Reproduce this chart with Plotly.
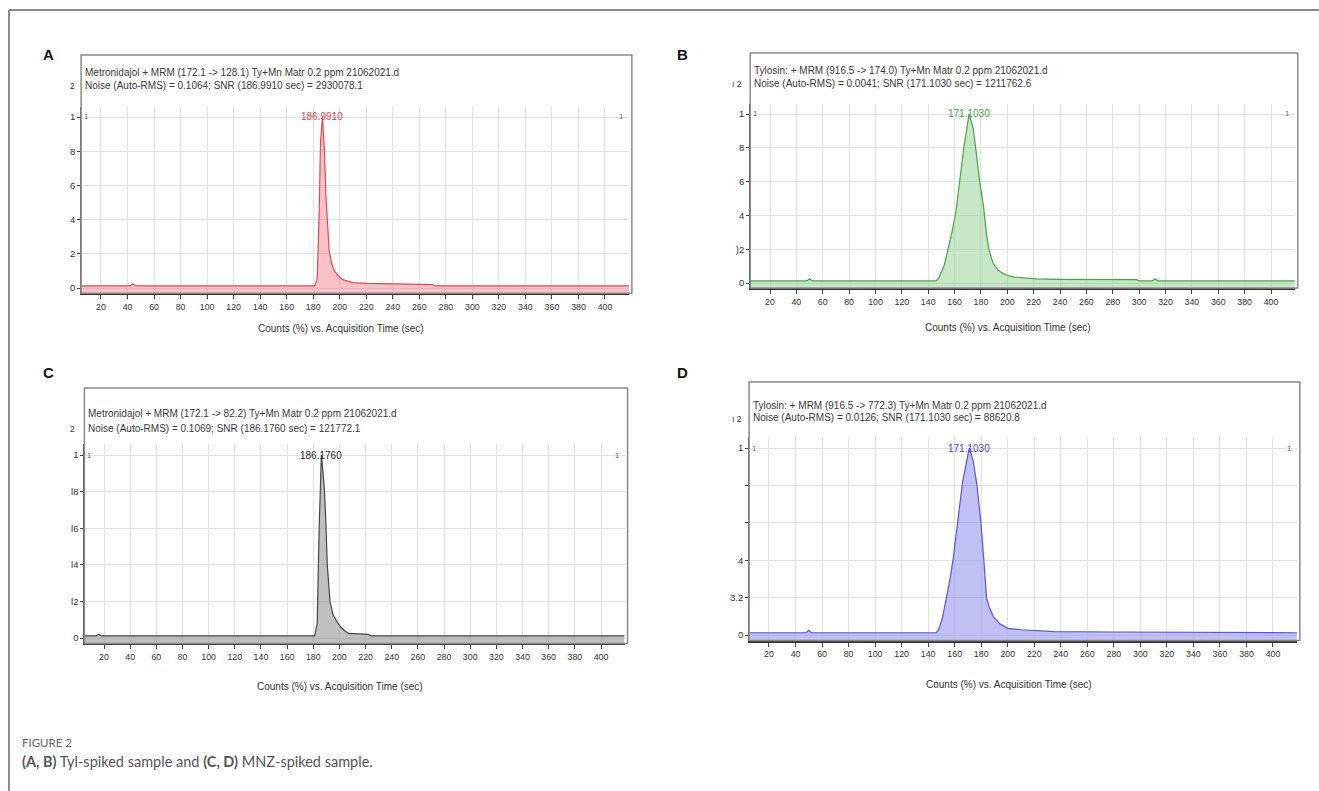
import plotly.graph_objects as go

W, H = 1319, 791

# ---------------- data ----------------
PANEL_LETTERS = ["A", "B", "C", "D"]
HEADER_LINE1 = [
    "Metronidajol + MRM (172.1 -> 128.1) Ty+Mn Matr 0.2 ppm 21062021.d",
    "Tylosin: + MRM (916.5 -> 174.0) Ty+Mn Matr 0.2 ppm 21062021.d",
    "Metronidajol + MRM (172.1 -> 82.2) Ty+Mn Matr 0.2 ppm 21062021.d",
    "Tylosin: + MRM (916.5 -> 772.3) Ty+Mn Matr 0.2 ppm 21062021.d",
]
HEADER_LINE2 = [
    "Noise (Auto-RMS) = 0.1064; SNR (186.9910 sec) = 2930078.1",
    "Noise (Auto-RMS) = 0.0041; SNR (171.1030 sec) = 1211762.6",
    "Noise (Auto-RMS) = 0.1069; SNR (186.1760 sec) = 121772.1",
    "Noise (Auto-RMS) = 0.0126; SNR (171.1030 sec) = 88620.8",
]
PEAK_LABELS = ["186.9910", "171.1030", "186.1760", "171.1030"]
PEAK_TIMES = [186.99, 171.10, 186.18, 171.10]
X_TITLE = "Counts (%) vs. Acquisition Time (sec)"
X_TICKS = list(range(20, 401, 20))
Y_TICKS = [0, 0.2, 0.4, 0.6, 0.8, 1.0]
Y_TICKTEXT = [
    ["0", "2", "4", "6", "8", "1"],
    ["0", ")2", "4", "6", "8", "1"],
    ["0", "l2", "l4", "l6", "l8", "1"],
    ["0", "3.2", "ˑ4", "", "", "1"],
]
SCALE_LABELS = ["2", "ı 2", "2", "ı 2"]

A_TIME = [5, 42, 44, 46, 181, 183, 184.5, 185.5, 187, 188.5, 189.5, 190.5, 192, 194,
          196, 199, 202, 206, 210, 220, 240, 260, 270, 272, 418]
A_COUNTS = [0.012, 0.012, 0.025, 0.012, 0.012, 0.05, 0.45, 0.85, 1.0, 0.8, 0.55, 0.38,
            0.22, 0.14, 0.1, 0.07, 0.05, 0.04, 0.032, 0.027, 0.024, 0.022, 0.02, 0.012, 0.012]

B_TIME = [3, 48, 50, 52, 146, 148, 152, 155, 158, 161, 164, 167, 171, 174, 176, 179,
          182, 184, 186, 189, 193, 198, 205, 215, 222, 240, 280, 298, 300, 310, 312,
          314, 419]
B_COUNTS = [0.012, 0.012, 0.025, 0.012, 0.012, 0.03, 0.1, 0.2, 0.3, 0.42, 0.6, 0.8,
            1.0, 0.92, 0.8, 0.6, 0.45, 0.3, 0.2, 0.12, 0.075, 0.05, 0.035, 0.03, 0.025,
            0.022, 0.02, 0.02, 0.012, 0.012, 0.025, 0.012, 0.012]

C_TIME = [5, 14, 16, 18, 181, 183, 184.5, 186.2, 187.5, 188.6, 189.8, 190.7, 192.8,
          195, 198, 201, 204, 207, 215, 222, 224, 418]
C_COUNTS = [0.012, 0.012, 0.02, 0.012, 0.012, 0.08, 0.6, 1.0, 0.9, 0.8, 0.6, 0.4, 0.2,
            0.13, 0.09, 0.06, 0.04, 0.025, 0.022, 0.02, 0.012, 0.012]

D_TIME = [5, 48, 50, 52, 146, 148, 151, 154, 156.5, 158.7, 162, 166, 171, 174, 176.8,
          179.8, 182, 184, 186, 189, 194, 200, 210, 220, 235, 280, 318, 320, 419]
D_COUNTS = [0.012, 0.012, 0.025, 0.012, 0.012, 0.03, 0.1, 0.2, 0.3, 0.4, 0.6, 0.82,
            1.0, 0.93, 0.8, 0.6, 0.4, 0.2, 0.15, 0.1, 0.06, 0.035, 0.028, 0.025, 0.018,
            0.016, 0.015, 0.012, 0.012]

TIMES = [A_TIME, B_TIME, C_TIME, D_TIME]
COUNTS = [A_COUNTS, B_COUNTS, C_COUNTS, D_COUNTS]

X_MIN, X_MAX = 5, 418
Y_MIN, Y_MAX = -0.03, 1.06

# ---------------- styling / geometry ----------------
LINE_COLORS = ["rgb(232,70,80)", "rgb(70,165,70)", "rgb(70,70,70)", "rgb(85,85,225)"]
FILL_COLORS = ["rgba(240,120,130,0.45)", "rgba(120,200,120,0.42)",
               "rgba(140,140,140,0.55)", "rgba(140,140,235,0.55)"]
LABEL_COLORS = ["rgb(235,60,70)", "rgb(70,165,70)", "rgb(40,40,40)", "rgb(70,70,225)"]

GEOM = [
    dict(letter=(48, 55), ftop=55, h1=73, h2=85, sc=(72, 86), p20=101, p400=605, y1=117, y0=288, ty=328),
    dict(letter=(683, 54), ftop=53, h1=70, h2=83, sc=(737, 84), p20=770, p400=1271, y1=114, y0=283, ty=327),
    dict(letter=(48, 373), ftop=388, h1=413, h2=428, sc=(72, 429), p20=104, p400=601, y1=455, y0=638, ty=686),
    dict(letter=(683, 373), ftop=382, h1=405, h2=418, sc=(737, 419), p20=769, p400=1273, y1=448, y0=635, ty=684),
]

NARROW = "Liberation Sans Narrow, Arial Narrow, Liberation Sans, Arial, sans-serif"


def fx(p):
    return p / W


def fy(p):
    return 1 - p / H


fig = go.Figure()
annotations = []
shapes = []
layout_axes = {}

for i in range(4):
    g = GEOM[i]
    k = (g["p400"] - g["p20"]) / 380.0
    left = g["p20"] - (20 - X_MIN) * k
    right = g["p400"] + (X_MAX - 400) * k
    s = g["y0"] - g["y1"]
    bottom = g["y0"] + (0 - Y_MIN) * s
    top = g["y1"] - (Y_MAX - 1) * s

    xa = "x" if i == 0 else f"x{i+1}"
    ya = "y" if i == 0 else f"y{i+1}"
    xkey = "xaxis" if i == 0 else f"xaxis{i+1}"
    ykey = "yaxis" if i == 0 else f"yaxis{i+1}"

    layout_axes[xkey] = dict(
        domain=[fx(left), fx(right)], range=[X_MIN, X_MAX], anchor=ya,
        tickvals=X_TICKS, ticks="outside", ticklen=4, tickcolor="#444",
        showgrid=True, gridcolor="#e2e2e2", gridwidth=1,
        showline=True, linecolor="#333", linewidth=2, zeroline=False,
        tickfont=dict(family=NARROW, size=8.8, color="#333"),
    )
    layout_axes[ykey] = dict(
        domain=[fy(bottom), fy(top)], range=[Y_MIN, Y_MAX], anchor=xa,
        tickvals=Y_TICKS, ticktext=Y_TICKTEXT[i], ticks="outside", ticklen=3,
        tickcolor="#444", showgrid=True, gridcolor="#e2e2e2", gridwidth=1,
        showline=True, linecolor="#555", linewidth=1, zeroline=False,
        tickfont=dict(family=NARROW, size=9.5, color="#333"),
    )

    fig.add_trace(go.Scatter(x=[X_MIN, X_MAX], y=[Y_MIN, Y_MIN], mode="lines",
                             line=dict(width=0, color=LINE_COLORS[i]), xaxis=xa, yaxis=ya,
                             showlegend=False, hoverinfo="skip"))
    fig.add_trace(go.Scatter(x=TIMES[i], y=COUNTS[i], mode="lines",
                             line=dict(color=LINE_COLORS[i], width=1.2),
                             fill="tonexty", fillcolor=FILL_COLORS[i],
                             xaxis=xa, yaxis=ya, showlegend=False))

    shapes.append(dict(type="rect", xref="paper", yref="paper",
                       x0=fx(left), x1=fx(right + 3), y0=fy(bottom), y1=fy(g["ftop"]),
                       line=dict(color="#8a8a8a", width=1.5)))

    annotations.append(dict(x=fx(g["letter"][0]), y=fy(g["letter"][1]), xref="paper", yref="paper",
                            text=f"<b>{PANEL_LETTERS[i]}</b>", showarrow=False,
                            font=dict(family="Liberation Sans, Arial, sans-serif", size=15, color="#111"),
                            xanchor="center", yanchor="middle"))
    for txt, yy in ((HEADER_LINE1[i], g["h1"]), (HEADER_LINE2[i], g["h2"])):
        annotations.append(dict(x=fx(left + 2), y=fy(yy), xref="paper", yref="paper",
                                text=txt, showarrow=False, xanchor="left", yanchor="middle",
                                font=dict(family=NARROW, size=10, color="#3a3a3a")))
    annotations.append(dict(x=fx(g["sc"][0]), y=fy(g["sc"][1]), xref="paper", yref="paper",
                            text=SCALE_LABELS[i], showarrow=False, xanchor="center", yanchor="middle",
                            font=dict(family=NARROW, size=8.5, color="#333")))
    annotations.append(dict(x=PEAK_TIMES[i], y=1.0, xref=xa, yref=ya, text=PEAK_LABELS[i],
                            showarrow=False, xanchor="center", yanchor="middle",
                            font=dict(family=NARROW, size=10, color=LABEL_COLORS[i])))
    annotations.append(dict(x=fx(left + 5), y=1.0, xref="paper", yref=ya, text="1",
                            showarrow=False, xanchor="center", yanchor="middle",
                            font=dict(family=NARROW, size=7.5, color="#666")))
    annotations.append(dict(x=fx(right - 8), y=1.0, xref="paper", yref=ya, text="1",
                            showarrow=False, xanchor="center", yanchor="middle",
                            font=dict(family=NARROW, size=7.5, color="#666")))
    annotations.append(dict(x=fx((left + right) / 2 - 14), y=fy(g["ty"]), xref="paper", yref="paper",
                            text=X_TITLE, showarrow=False, xanchor="center", yanchor="middle",
                            font=dict(family=NARROW, size=10, color="#333")))

shapes.append(dict(type="line", xref="paper", yref="paper", x0=fx(9), x1=1, y0=fy(10), y1=fy(10),
                   line=dict(color="#8c8c8c", width=2)))
shapes.append(dict(type="line", xref="paper", yref="paper", x0=fx(9), x1=fx(9), y0=fy(10), y1=0,
                   line=dict(color="#8c8c8c", width=2)))

annotations.append(dict(x=fx(20), y=fy(742), xref="paper", yref="paper", text="FIGURE 2",
                        showarrow=False, xanchor="left", yanchor="middle",
                        font=dict(family="Lato, Open Sans, sans-serif", size=11.5, color="#666")))
annotations.append(dict(x=fx(20), y=fy(761), xref="paper", yref="paper",
                        text="<b>(A, B)</b> Tyl-spiked sample and <b>(C, D)</b> MNZ-spiked sample.",
                        showarrow=False, xanchor="left", yanchor="middle",
                        font=dict(family="Lato, Open Sans, sans-serif", size=14.5, color="#555")))

fig.update_layout(
    width=W, height=H, margin=dict(l=0, r=0, t=0, b=0),
    paper_bgcolor="white", plot_bgcolor="white",
    showlegend=False, annotations=annotations, shapes=shapes,
    **layout_axes,
)

fig.write_html("out.html", config={"displayModeBar": False},
               post_script="document.body.style.margin='0px';")
